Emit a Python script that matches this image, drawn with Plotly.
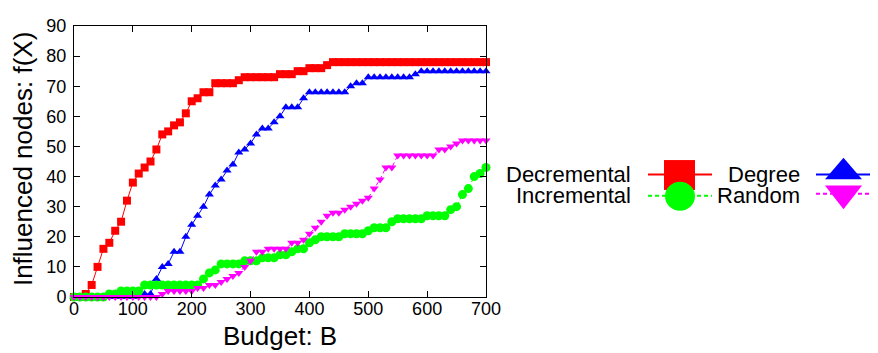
import plotly.graph_objects as go

# ---------------- data ----------------
budget = [0, 10, 20, 30, 40, 50, 60, 70, 80, 90,
          100, 110, 120, 130, 140, 150, 160, 170, 180, 190,
          200, 210, 220, 230, 240, 250, 260, 270, 280, 290,
          300, 310, 320, 330, 340, 350, 360, 370, 380, 390,
          400, 410, 420, 430, 440, 450, 460, 470, 480, 490,
          500, 510, 520, 530, 540, 550, 560, 570, 580, 590,
          600, 610, 620, 630, 640, 650, 660, 670, 680, 690, 700]

decremental = [0, 0, 1, 4, 10, 16, 18, 22, 25, 32,
               38, 41, 43, 45, 49, 54, 55, 57, 58, 61,
               65, 66, 68, 68, 71, 71, 71, 71, 72, 73,
               73, 73, 73, 73, 73, 74, 74, 74, 75, 75,
               76, 76, 76, 77, 78, 78, 78, 78, 78, 78,
               78, 78, 78, 78, 78, 78, 78, 78, 78, 78,
               78, 78, 78, 78, 78, 78, 78, 78, 78, 78, 78]

degree = [0, 0, 0, 0, 0, 0, 0, 0, 0, 0,
          0, 1, 1, 1, 6, 10, 11, 15, 15, 20,
          24, 27, 30, 34, 37, 39, 42, 44, 48, 49,
          51, 54, 56, 56, 58, 60, 63, 63, 63, 66,
          68, 68, 68, 68, 68, 68, 68, 70, 71, 71,
          73, 73, 73, 73, 73, 73, 73, 73, 74, 75,
          75, 75, 75, 75, 75, 75, 75, 75, 75, 75, 75]

incremental = [0, 0, 0, 0, 0, 0, 1, 1, 2, 2,
               2, 2, 4, 4, 4, 4, 4, 4, 4, 4,
               4, 4, 6, 8, 9, 11, 11, 11, 11, 12,
               12, 12, 13, 13, 13, 14, 14, 15, 16, 16,
               18, 19, 20, 20, 20, 20, 21, 21, 21, 21,
               22, 23, 23, 23, 25, 26, 26, 26, 26, 26,
               27, 27, 27, 27, 29, 30, 34, 36, 40, 41, 43]

random_ = [0, 0, 0, 0, 0, 0, 0, 0, 0, 0,
           0, 0, 0, 0, 0, 1, 2, 2, 2, 2,
           2, 3, 3, 4, 4, 5, 6, 7, 8, 10,
           12, 15, 15, 16, 16, 16, 16, 18, 18, 19,
           21, 23, 25, 27, 28, 28, 29, 30, 31, 32,
           33, 36, 39, 43, 43, 47, 47, 47, 47, 47,
           47, 47, 49, 49, 50, 51, 52, 52, 52, 52, 52]

x_ticks = [0, 100, 200, 300, 400, 500, 600, 700]
y_ticks = [0, 10, 20, 30, 40, 50, 60, 70, 80, 90]

series_names = ["Decremental", "Degree", "Incremental", "Random"]
colors = {"Decremental": "#ff0000", "Degree": "#0000ff",
          "Incremental": "#00ff00", "Random": "#ff00ff"}

# ---------------- figure ----------------
# page body has an 8px default margin, so the figure is 8px smaller
OFF = 8
W, H = 878 - OFF, 353 - OFF
ML, MR, MT, MB = 74 - OFF, 392, 16 - OFF, 56
PW, PH = W - ML - MR, H - MT - MB
FONT = "Liberation Sans, Arial, Helvetica, sans-serif"


def X(px):  # reference-screen px -> paper
    return (px - OFF - ML) / PW


def Y(py):
    return (H - MB - (py - OFF)) / PH


fig = go.Figure()
styles = {
    "Decremental": dict(symbol="square", size=8, dash="solid"),
    "Degree": dict(symbol="triangle-up", size=8, dash="solid"),
    "Incremental": dict(symbol="circle", size=9, dash="4px,3px"),
    "Random": dict(symbol="triangle-down", size=8, dash="4px,3px"),
}
data = {"Decremental": decremental, "Degree": degree,
        "Incremental": incremental, "Random": random_}
for name in series_names:
    st = styles[name]
    fig.add_trace(go.Scatter(
        x=budget, y=data[name], name=name, mode="lines+markers",
        line=dict(color=colors[name], width=1, dash=st["dash"]),
        marker=dict(symbol=st["symbol"], size=st["size"], color=colors[name],
                    line=dict(width=0)),
        cliponaxis=False, showlegend=False))

axis_common = dict(showline=True, linecolor="black", linewidth=1, mirror="allticks",
                   ticks="inside", ticklen=6, tickcolor="black", showgrid=False,
                   zeroline=False, ticklabeloverflow="allow",
                   tickfont=dict(family=FONT, size=18, color="black"))
fig.update_xaxes(range=[0, 700], tickvals=x_ticks, ticklabelstandoff=-5, **axis_common)
fig.update_yaxes(range=[0, 90], tickvals=y_ticks, ticklabelstandoff=3, **axis_common)

annotations = [
    dict(text="Budget: B", x=0.5, y=Y(337), xref="paper", yref="paper",
         xanchor="center", yanchor="middle", showarrow=False,
         font=dict(family=FONT, size=26, color="black")),
    dict(text="Influenced nodes: f(X)", x=X(23), y=Y(154), xref="paper", yref="paper",
         xanchor="center", yanchor="middle", textangle=-90, showarrow=False,
         font=dict(family=FONT, size=26, color="black")),
]
# custom key (sample drawn to the right of its text)
key_rows = [("Decremental", 633, 170), ("Incremental", 633, 192),
            ("Degree", 802, 170), ("Random", 802, 192)]
for name, xr, yc in key_rows:
    annotations.append(dict(text=name, x=X(xr), y=Y(yc), xref="paper", yref="paper",
                            xanchor="right", yanchor="middle", showarrow=False,
                            font=dict(family=FONT, size=22, color="black")))

shapes = []
shapes.append(dict(type="line", xref="paper", yref="paper", x0=X(648), x1=X(712),
                   y0=Y(170), y1=Y(170), line=dict(color=colors["Decremental"], width=2)))
shapes.append(dict(type="line", xref="paper", yref="paper", x0=X(648), x1=X(712),
                   y0=Y(192), y1=Y(192), line=dict(color=colors["Incremental"], width=2, dash="4px,3px")))
shapes.append(dict(type="line", xref="paper", yref="paper", x0=X(816), x1=X(878),
                   y0=Y(170), y1=Y(170), line=dict(color=colors["Degree"], width=2)))
shapes.append(dict(type="line", xref="paper", yref="paper", x0=X(816), x1=X(878),
                   y0=Y(190), y1=Y(190), line=dict(color=colors["Random"], width=2, dash="4px,3px")))
shapes.append(dict(type="rect", xref="paper", yref="paper", x0=X(664), x1=X(695),
                   y0=Y(155), y1=Y(186), fillcolor=colors["Decremental"], line=dict(width=0)))
shapes.append(dict(type="circle", xref="paper", yref="paper", x0=X(665), x1=X(695),
                   y0=Y(177.5), y1=Y(207.5), fillcolor=colors["Incremental"], line=dict(width=0)))


def tri(points):
    return "M " + " L ".join(f"{X(a):.5f},{Y(b):.5f}" for a, b in points) + " Z"


shapes.append(dict(type="path", xref="paper", yref="paper",
                   path=tri([(825, 175), (862, 175), (843.5, 152.5)]),
                   fillcolor=colors["Degree"], line=dict(width=0)))
shapes.append(dict(type="path", xref="paper", yref="paper",
                   path=tri([(825, 181.5), (862, 181.5), (843.5, 206)]),
                   fillcolor=colors["Random"], line=dict(width=0)))

fig.update_layout(
    width=W, height=H, margin=dict(l=ML, r=MR, t=MT, b=MB, pad=0),
    paper_bgcolor="white", plot_bgcolor="white",
    font=dict(family=FONT, color="black"),
    annotations=annotations, shapes=shapes, showlegend=False,
)

fig.write_html("out.html")
